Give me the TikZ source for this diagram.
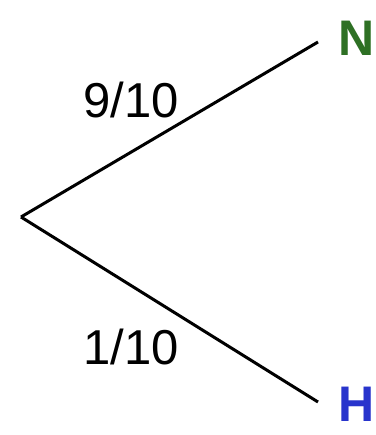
\documentclass[tikz,border=0pt]{standalone}
\usepackage{fontspec}
\setmainfont{Liberation Sans}
\definecolor{leafgreen}{RGB}{46,112,36}
\definecolor{leafblue}{RGB}{40,52,204}
\tikzset{
  branch/.style={line width=3pt},
  prob/.style={font=\fontsize{49}{52}\selectfont},
  leaf/.style={font=\fontsize{50}{54}\selectfont\bfseries}
}
\begin{document}
\begin{tikzpicture}[x=1pt, y=1pt]
\useasboundingbox (0,0) rectangle (375,435);
\coordinate (root) at (21,218);
\coordinate (up) at (318,393);
\coordinate (down) at (318,33);
\draw[branch](root)--(up);
\draw[branch](root)--(down);
\node[leaf, text=leafgreen] (N) at (357,397) {N};
\node[leaf, text=leafblue] (H) at (357,31) {H};
\node[prob] (pN) at (131,335) {9/10};
\node[prob] (pH) at (131,88) {1/10};

\end{tikzpicture}
\end{document}
